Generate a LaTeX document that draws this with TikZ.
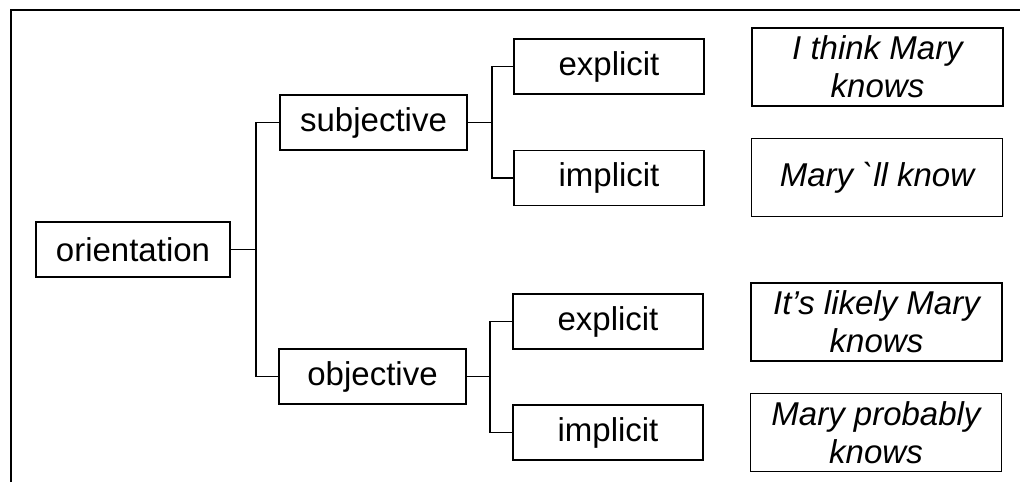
\documentclass[tikz,border=0pt]{standalone}
\usepackage{fontspec}
\newfontfamily\arialish{Liberation Sans}
\begin{document}
\begin{tikzpicture}[x=1pt,y=1pt,
  box/.style={draw, line width=1.5pt, inner sep=0pt, align=center,
    font=\arialish\fontsize{33}{38}\selectfont},
  catbox/.style={box, minimum width=190pt, minimum height=55pt},
  exbox/.style={box, minimum width=251pt, minimum height=78pt,
    font=\arialish\itshape\fontsize{33}{38}\selectfont},
  link/.style={line width=1.5pt}]
\useasboundingbox (0,0) rectangle (1020,-482);
% frame: top and left rules only
\draw[line width=2.4pt] (11,-482) -- (11,-10) -- (1020,-10);

% category tree
\node[catbox, minimum width=194pt] (orient) at (133,-249.5) {orientation};
\node[catbox, minimum width=187pt] (subj) at (373.5,-122.5) {subjective};
\node[catbox, minimum width=187pt] (obj) at (372.5,-376.5) {objective};
\node[catbox] (sexp) at (609,-66.5) {explicit};
\node[catbox] (simp) at (609,-178) {implicit};
\node[catbox] (oexp) at (608,-321.5) {explicit};
\node[catbox] (oimp) at (608,-432.5) {implicit};

% examples
\node[exbox] (ex1) at (877.5,-67) {I think Mary\\knows};
\node[exbox] (ex2) at (877,-177.5) {Mary `ll know};
\node[exbox] (ex3) at (876.5,-322) {It’s likely Mary\\knows};
\node[exbox] (ex4) at (876,-432.5) {Mary probably\\knows};

% bracket connectors
\draw[link] (orient.east) -- ++(25,0) coordinate (j0);
\draw[link] (subj.west) -| (j0) |- (obj.west);
\draw[link] (subj.east) -- ++(24,0) coordinate (j1);
\draw[link] (sexp.west) -| (j1) |- (simp.west);
\draw[link] (obj.east) -- ++(23,0) coordinate (j2);
\draw[link] (oexp.west) -| (j2) |- (oimp.west);
\end{tikzpicture}
\end{document}
